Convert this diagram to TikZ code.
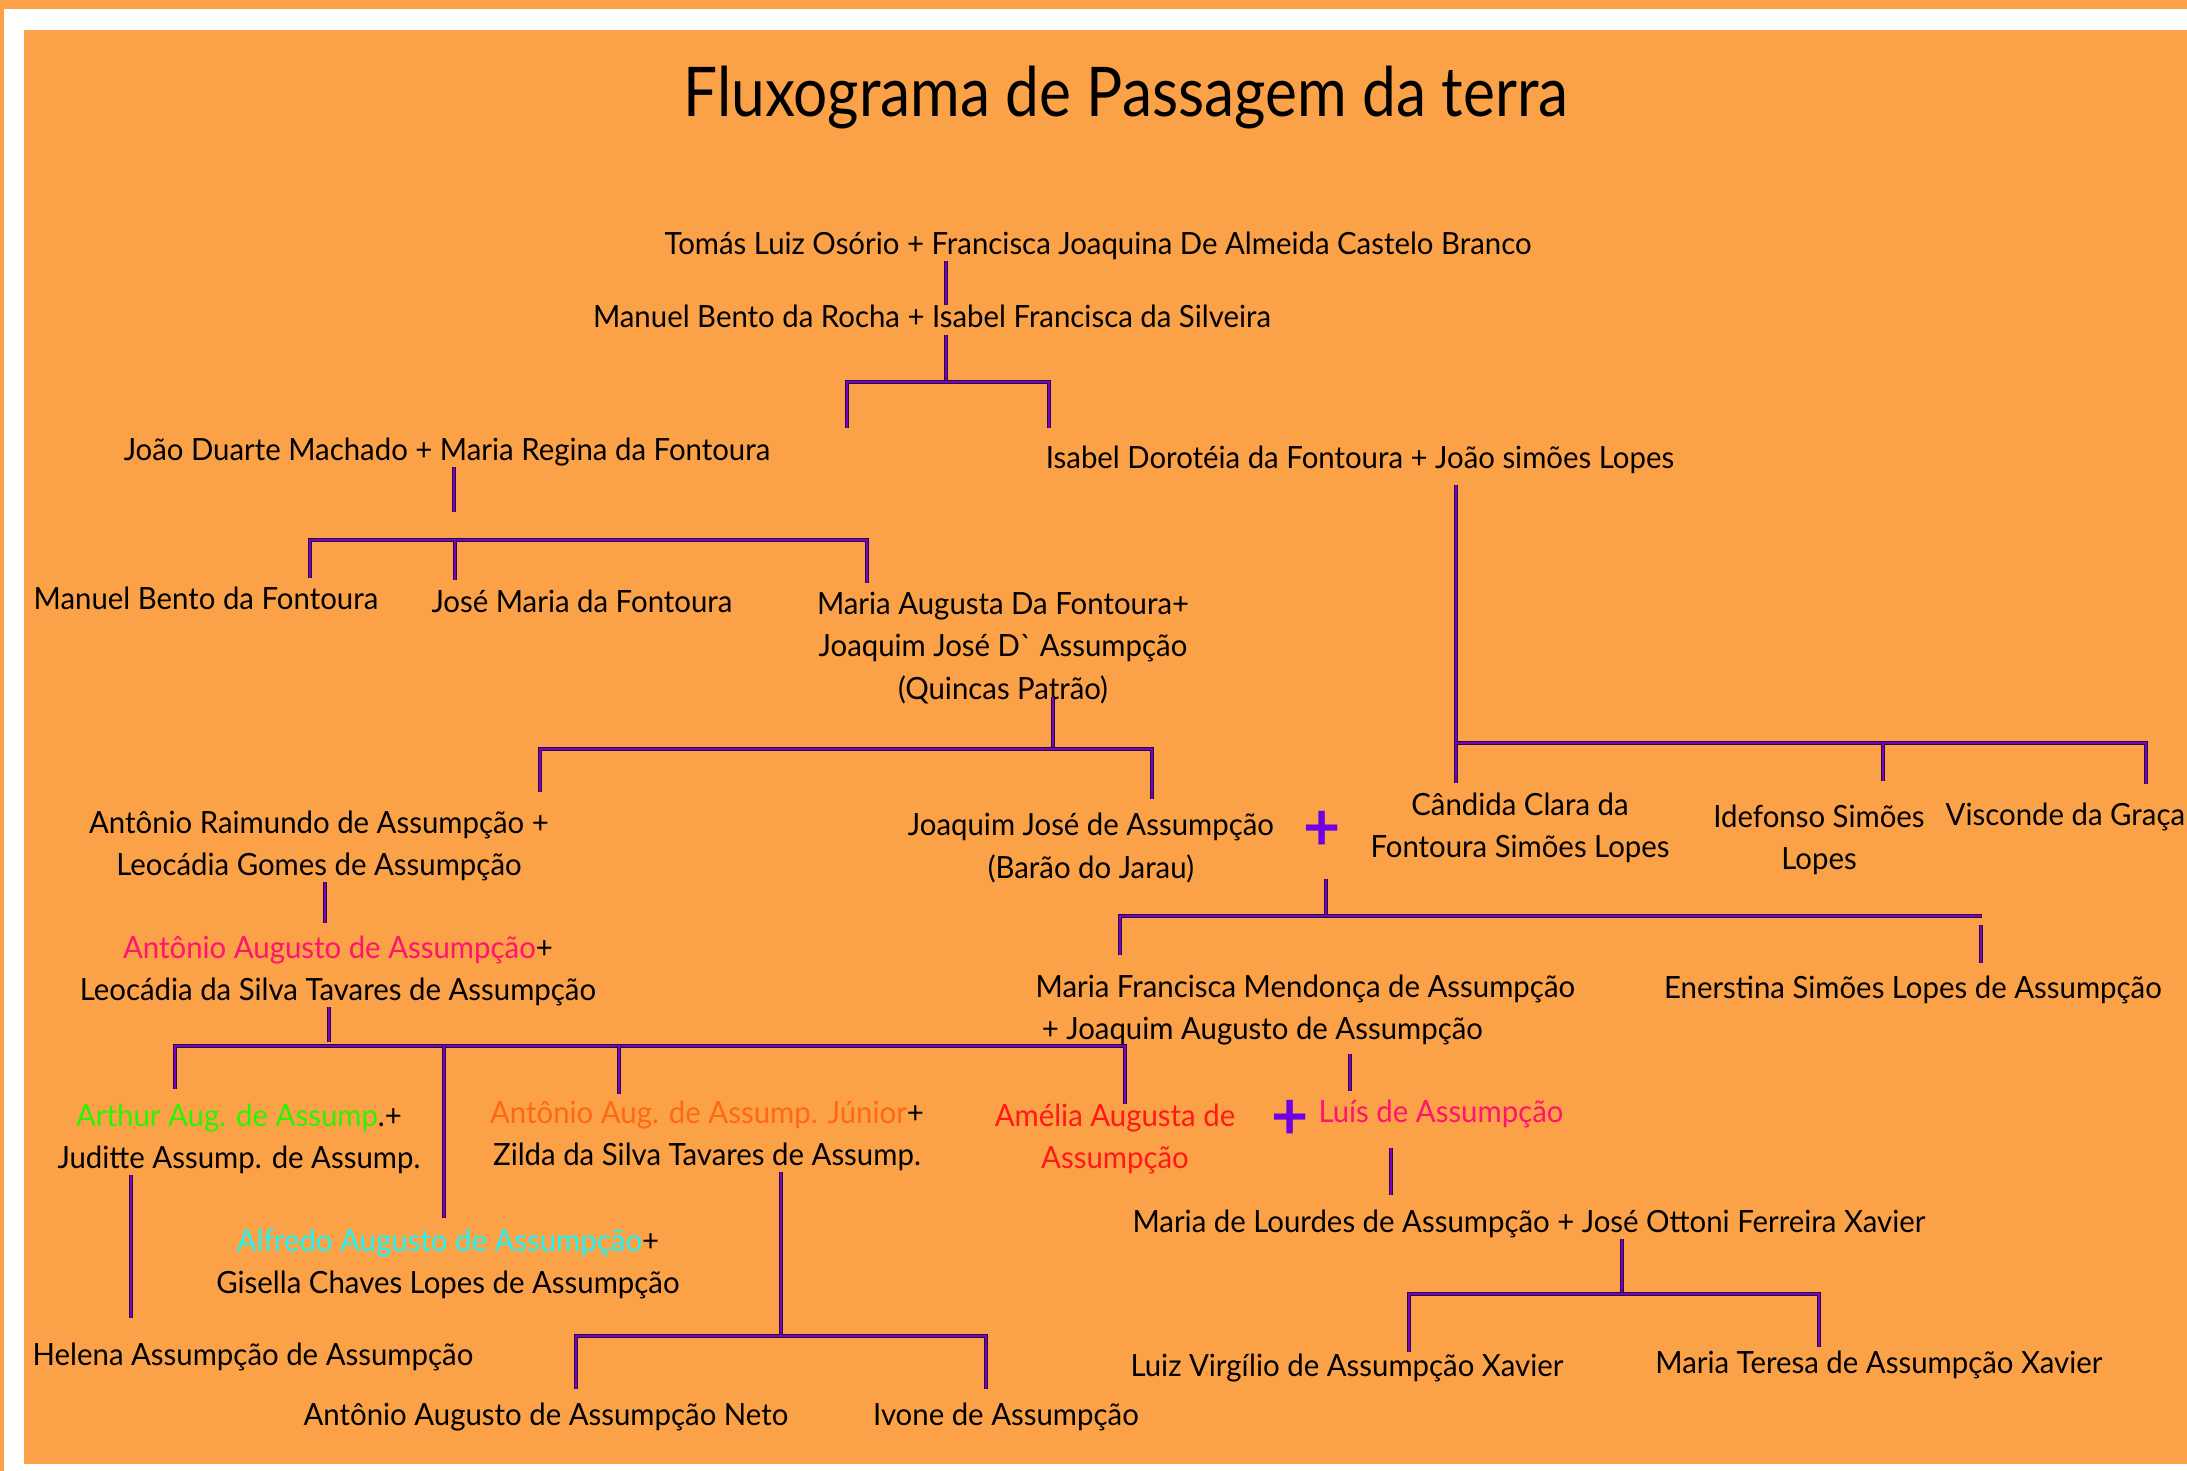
\documentclass[tikz,border=0pt]{standalone}
\usepackage{fontspec}
\setmainfont[FakeStretch=0.96]{Lato}
\newfontfamily\titlefont[FakeStretch=0.88]{Lato}
\definecolor{bgorange}{RGB}{251,161,72}
\definecolor{linepurple}{RGB}{125,0,200}
\definecolor{plusviolet}{RGB}{110,0,230}
\definecolor{pinkname}{RGB}{255,20,110}
\definecolor{greenname}{RGB}{40,245,0}
\definecolor{cyanname}{RGB}{30,245,245}
\definecolor{orangename}{RGB}{255,105,20}
\definecolor{redname}{RGB}{255,25,25}

\tikzset{
  person/.style={inner sep=0pt, align=center, font=\fontsize{8.7}{12}\selectfont},
  link/.style={draw=black!70!linepurple, line width=0.25pt, double=linepurple, double distance=0.75pt},
  plus/.style={inner sep=0pt, text=plusviolet, font=\fontsize{19}{19}\selectfont\bfseries},
}

\begin{document}
\begin{tikzpicture}[x=0.01cm, y=-0.01cm]
\useasboundingbox (0,0) rectangle (2187,1471);
\fill[bgorange] (0,0) rectangle (2187,1471);
\fill[white] (4,9) rectangle (2187,1471);
\fill[bgorange] (24,30) rectangle (2187,1464);

\node[anchor=base, inner sep=0pt, font=\titlefont\fontsize{19.5}{20}\selectfont] (t) at (1126,117) {Fluxograma de Passagem da terra};

% people
\node[person, anchor=base] (0) at (1098,255) {Tomás Luiz Osório + Francisca Joaquina De Almeida Castelo Branco};
\node[person, anchor=base] (1) at (932,328) {Manuel Bento da Rocha + Isabel Francisca da Silveira};
\node[person, anchor=base] (2) at (447,461) {João Duarte Machado + Maria Regina da Fontoura};
\node[person, anchor=base] (3) at (1360,469) {Isabel Dorotéia da Fontoura + João simões Lopes};
\node[person, anchor=base] (4) at (206,610) {Manuel Bento da Fontoura};
\node[person, anchor=base] (5) at (582,613) {José Maria da Fontoura};
\node[person] (6) at (1003,648) {Maria Augusta Da Fontoura+\\Joaquim José D\textasciigrave{} Assumpção\\(Quincas Patrão)};
\node[person] (7) at (319,846) {Antônio Raimundo de Assumpção +\\Leocádia Gomes de Assumpção};
\node[person] (8) at (1091,848) {Joaquim José de Assumpção\\(Barão do Jarau)};
\node[plus] (9) at (1322,831) {+};
\node[person] (10) at (1520,828) {Cândida Clara da\\Fontoura Simões Lopes};
\node[person] (11) at (1819,840) {Idefonso Simões\\Lopes};
\node[person, anchor=base west] (12) at (1945,826) {Visconde da Graça};
\node[person] (13) at (338,971) {\textcolor{pinkname}{Antônio Augusto de Assumpção}+\\Leocádia da Silva Tavares de Assumpção};
\node[person, align=left, anchor=west] (14) at (1035,1010) {Maria Francisca Mendonça de Assumpção\\\hspace{0.2em}+ Joaquim Augusto de Assumpção};
\node[person, anchor=base] (15) at (1913,999) {Enerstina Simões Lopes de Assumpção};
\node[person] (16) at (239,1139) {\textcolor{greenname}{Arthur Aug. de Assump}.+\\Juditte Assump. de Assump.};
\node[person] (17) at (448,1264) {\textcolor{cyanname}{Alfredo Augusto de Assumpção}+\\Gisella Chaves Lopes de Assumpção};
\node[person] (18) at (707,1136) {\textcolor{orangename}{Antônio Aug. de Assump. Júnior}+\\Zilda da Silva Tavares de Assump.};
\node[person, text=redname] (19) at (1115,1139) {Amélia Augusta de\\Assumpção};
\node[plus] (20) at (1290,1120) {+};
\node[person, anchor=base, text=pinkname] (21) at (1441,1123) {Luís de Assumpção};
\node[person, anchor=base] (22) at (253,1366) {Helena Assumpção de Assumpção};
\node[person, anchor=base] (23) at (546,1426) {Antônio Augusto de Assumpção Neto};
\node[person, anchor=base] (24) at (1006,1426) {Ivone de Assumpção};
\node[person, anchor=base] (25) at (1529,1233) {Maria de Lourdes de Assumpção + José Ottoni Ferreira Xavier};
\node[person, anchor=base] (26) at (1347,1377) {Luiz Virgílio de Assumpção Xavier};
\node[person, anchor=base] (27) at (1879,1374) {Maria Teresa de Assumpção Xavier};

% junctions and loose ends
\coordinate (s1) at (946,335);
\coordinate (j1) at (946,382);
\coordinate (d1a) at (847,428);
\coordinate (d1b) at (1049,428);
\coordinate (s2) at (454,512);
\coordinate (j2) at (454,540);
\coordinate (d2a) at (310,578);
\coordinate (d2b) at (455,580);
\coordinate (d2c) at (867,583);
\coordinate (s3) at (1053,697);
\coordinate (j3) at (1053,749);
\coordinate (d3a) at (540,792);
\coordinate (d3b) at (1152,799);
\coordinate (s4) at (1456,485);
\coordinate (j4) at (1456,743);
\coordinate (d4a) at (1456,783);
\coordinate (d4b) at (1883,781);
\coordinate (d4c) at (2146,784);
\coordinate (s5) at (325,923);
\coordinate (s6) at (329,1042);
\coordinate (j6) at (329,1046);
\coordinate (d6a) at (175,1089);
\coordinate (d6b) at (444,1218);
\coordinate (d6c) at (619,1094);
\coordinate (d6d) at (1125,1104);
\coordinate (s7) at (131,1318);
\coordinate (j8) at (781,1336);
\coordinate (d8a) at (576,1389);
\coordinate (d8b) at (986,1389);
\coordinate (s9) at (1326,879);
\coordinate (j9) at (1326,916);
\coordinate (d9a) at (1120,955);
\coordinate (e9) at (1982,916);
\coordinate (t9) at (1981,925);
\coordinate (d9b) at (1981,963);
\coordinate (s10) at (1350,1054);
\coordinate (e10) at (1350,1091);
\coordinate (s11) at (1391,1148);
\coordinate (e11) at (1391,1195);
\coordinate (j12) at (1622,1294);
\coordinate (d12a) at (1409,1352);
\coordinate (d12b) at (1819,1347);

% connectors
\draw[link] (0.south -| j1) -- (1.north -| j1);
\draw[link] (s1) -- (j1);
\draw[link] (d1a) |- (j1) -| (d1b);
\draw[link] (2.south -| s2) -- (s2);
\draw[link] (d2a) |- (j2) -| (d2c);
\draw[link] (d2b) -- (d2b |- j2);
\draw[link] (s3) -- (j3);
\draw[link] (d3a) |- (j3) -| (d3b);
\draw[link] (s4) -- (d4a);
\draw[link] (j4) -| (d4c);
\draw[link] (d4b) -- (d4b |- j4);
\draw[link] (7.south -| s5) -- (s5);
\draw[link] (13.south -| s6) -- (s6);
\draw[link] (d6a) |- (j6) -| (d6d);
\draw[link] (d6b) -- (d6b |- j6);
\draw[link] (d6c) -- (d6c |- j6);
\draw[link] (16.south -| s7) -- (s7);
\draw[link] (18.south -| j8) -- (j8);
\draw[link] (d8a) |- (j8) -| (d8b);
\draw[link] (s9) -- (j9);
\draw[link] (d9a) |- (j9) -- (e9);
\draw[link] (t9) -- (d9b);
\draw[link] (s10) -- (e10);
\draw[link] (s11) -- (e11);
\draw[link] (25.south -| j12) -- (j12);
\draw[link] (d12a) |- (j12) -| (d12b);
\end{tikzpicture}
\end{document}
